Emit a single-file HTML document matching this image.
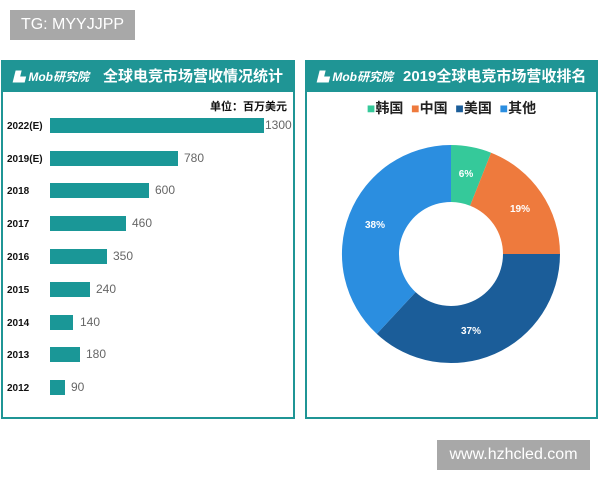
<!DOCTYPE html>
<html><head><meta charset="utf-8"><style>
body{margin:0;width:600px;height:480px;background:#fff;position:relative;overflow:hidden;font-family:"Liberation Sans","Noto Sans CJK SC",sans-serif}
.a{position:absolute}
.panel{position:absolute;border:2px solid #1f9595;box-sizing:border-box;background:#fff}
.hd{position:absolute;left:0;top:0;right:0;height:30px;background:#1f9595;color:#fff;font-weight:bold;font-size:15px;line-height:30px;white-space:nowrap;overflow:hidden}
.logo{font-style:italic;font-size:12px;font-weight:bold}
.yr{position:absolute;left:4px;width:40px;font-size:10px;font-weight:bold;color:#111;text-align:left}
.bar{position:absolute;left:47px;height:15px;background:#1a9797}
.v{position:absolute;font-size:12px;color:#666}
</style></head><body>
<div class="a" style="left:10px;top:10px;width:125px;height:30px;background:#a8a8a8;color:#fff;font-size:16px;line-height:30px;text-align:center">TG: MYYJJPP</div>
<div class="a" style="left:437px;top:440px;width:153px;height:30px;background:#a8a8a8;color:#fff;font-size:16px;line-height:30px;text-align:center">www.hzhcled.com</div>

<div class="panel" style="left:1px;top:60px;width:294px;height:359px">
<div class="hd"><span class="logo" style="margin-left:10px">▙ Mob研究院</span><span style="margin-left:14px">全球电竞市场营收情况统计</span></div>
<div class="a" style="right:6px;top:36px;font-size:11px;font-weight:bold;color:#111">单位：百万美元</div>
<div class="yr" style="top:59px">2022(E)</div><div class="bar" style="top:56px;width:214px"></div><div class="v" style="left:262px;top:56px">1300</div>
<div class="yr" style="top:92px">2019(E)</div><div class="bar" style="top:89px;width:128px"></div><div class="v" style="left:181px;top:89px">780</div>
<div class="yr" style="top:124px">2018</div><div class="bar" style="top:121px;width:99px"></div><div class="v" style="left:152px;top:121px">600</div>
<div class="yr" style="top:157px">2017</div><div class="bar" style="top:154px;width:76px"></div><div class="v" style="left:129px;top:154px">460</div>
<div class="yr" style="top:190px">2016</div><div class="bar" style="top:187px;width:57px"></div><div class="v" style="left:110px;top:187px">350</div>
<div class="yr" style="top:223px">2015</div><div class="bar" style="top:220px;width:40px"></div><div class="v" style="left:93px;top:220px">240</div>
<div class="yr" style="top:256px">2014</div><div class="bar" style="top:253px;width:23px"></div><div class="v" style="left:77px;top:253px">140</div>
<div class="yr" style="top:288px">2013</div><div class="bar" style="top:285px;width:30px"></div><div class="v" style="left:83px;top:285px">180</div>
<div class="yr" style="top:321px">2012</div><div class="bar" style="top:318px;width:15px"></div><div class="v" style="left:68px;top:318px">90</div>
</div>

<div class="panel" style="left:305px;top:60px;width:293px;height:359px">
<div class="hd"><span class="logo" style="margin-left:10px">▙ Mob研究院</span><span style="margin-left:10px">2019全球电竞市场营收排名</span></div>
<div class="a" style="left:0;right:0;top:36px;text-align:center;font-size:14px;font-weight:bold;color:#222">
<span style="color:#35c99a">■</span>韩国 &nbsp;<span style="color:#ee7a3d">■</span>中国 &nbsp;<span style="color:#1b5d99">■</span>美国 &nbsp;<span style="color:#2b8ee0">■</span>其他</div>
</div>
<svg class="a" style="left:0;top:0" width="600" height="480">
<g transform="translate(451,254)">
<path d="M0,-109 A109,109 0 0 1 40.1,-101.3 L19.1,-48.3 A52,52 0 0 0 0,-52Z" fill="#35c99a"/>
<path d="M40.1,-101.3 A109,109 0 0 1 109,0 L52,0 A52,52 0 0 0 19.1,-48.3Z" fill="#ee7a3d"/>
<path d="M109,0 A109,109 0 0 1 -74.2,79.9 L-35.4,38.1 A52,52 0 0 0 52,0Z" fill="#1b5d99"/>
<path d="M-74.2,79.9 A109,109 0 0 1 0,-109 L0,-52 A52,52 0 0 0 -35.4,38.1Z" fill="#2b8ee0"/>
<g fill="#fff" font-size="10" font-weight="bold" text-anchor="middle" font-family="Liberation Sans">
<text x="15" y="-77">6%</text><text x="69" y="-42">19%</text><text x="20" y="80">37%</text><text x="-76" y="-26">38%</text></g>
</g></svg>
</body></html>
